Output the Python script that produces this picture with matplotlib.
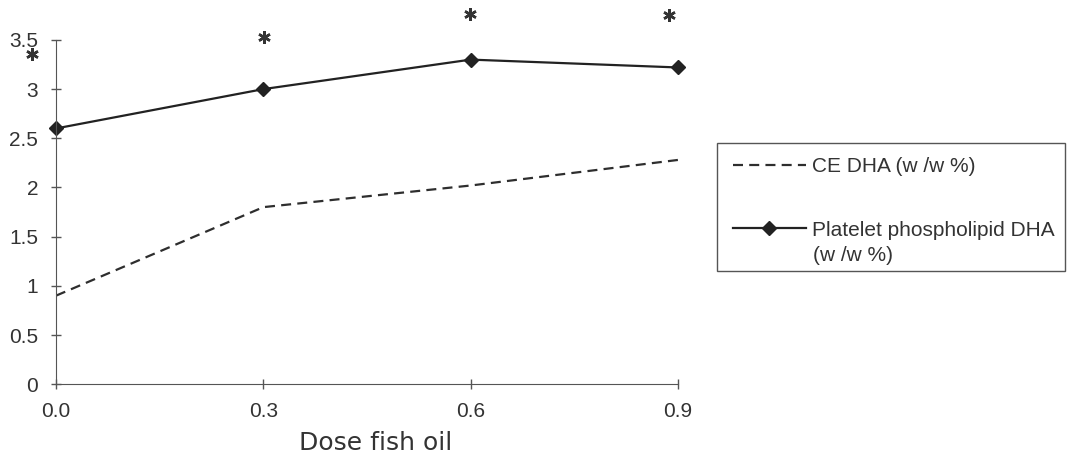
import matplotlib
matplotlib.use("Agg")
import matplotlib.pyplot as plt
from matplotlib.lines import Line2D
from matplotlib.patches import Rectangle

plt.rcParams["font.family"] = ["Liberation Sans", "DejaVu Sans"]

dose = [0.0, 0.3, 0.6, 0.9]
ce_dha = [0.9, 1.8, 2.02, 2.28]
platelet_dha = [2.6, 3.0, 3.3, 3.22]

# significance markers (x, y)
star_x = [-0.035, 0.301, 0.599, 0.887]
star_y = [3.36, 3.53, 3.76, 3.75]

x_ticks = [0.0, 0.3, 0.6, 0.9]
x_tick_labels = ["0.0", "0.3", "0.6", "0.9"]
y_ticks = [0, 0.5, 1, 1.5, 2, 2.5, 3, 3.5]
y_tick_labels = ["0", "0.5", "1", "1.5", "2", "2.5", "3", "3.5"]

dash = (0, (4.5, 2.8))

fig = plt.figure(figsize=(10.67, 4.59), dpi=100)
ax = fig.add_axes([0.0525, 0.163, 0.583, 0.750])

ax.plot(dose, ce_dha, color="#2e2e2e", lw=1.6, ls=dash)
ax.plot(dose, platelet_dha, color="#222222", lw=1.6, marker="D", ms=7,
        markerfacecolor="#222222", markeredgecolor="#222222", clip_on=False)

ax.plot(star_x, star_y, ls="none", marker=(6, 2, 0), ms=9, mew=1.8,
        color="#333333", clip_on=False)

ax.set_xlim(0.0, 0.9)
ax.set_ylim(0, 3.5)
ax.set_xticks(x_ticks)
ax.set_xticklabels(x_tick_labels)
ax.set_yticks(y_ticks)
ax.set_yticklabels(y_tick_labels)
ax.tick_params(axis="both", direction="inout", length=7.5, width=1,
               color="#555555", labelsize=15, labelcolor="#333333")
ax.tick_params(axis="x", pad=9)
ax.tick_params(axis="y", pad=9)
for side in ("top", "right"):
    ax.spines[side].set_visible(False)
for side in ("left", "bottom"):
    ax.spines[side].set_color("#555555")
ax.set_xlabel("Dose fish oil", fontsize=18, color="#333333",
              family="DejaVu Sans")
ax.xaxis.set_label_coords(0.513, -0.135)

# legend: drawn without its own frame so the handle sits on the first line
fig.patches.append(Rectangle((0.672, 0.4096), 0.326, 0.279,
                             transform=fig.transFigure, fill=False,
                             edgecolor="#555555", lw=1))
handles = [
    Line2D([], [], color="#2e2e2e", lw=1.6, ls=dash),
    Line2D([], [], color="#222222", lw=1.6, marker="D", ms=7),
]
labels = ["CE DHA (w /w %)", "Platelet phospholipid DHA"]
leg = fig.legend(handles, labels, loc="upper left",
                 bbox_to_anchor=(0.687, 0.658), fontsize=15,
                 frameon=False, handlelength=3.5, borderpad=0,
                 borderaxespad=0, labelspacing=2.15, handletextpad=0.3)
for t in leg.get_texts():
    t.set_color("#333333")
fig.text(0.762, 0.4444, "(w /w %)", fontsize=15, color="#333333",
         ha="left", va="center")

fig.savefig("out.png", dpi=100)
